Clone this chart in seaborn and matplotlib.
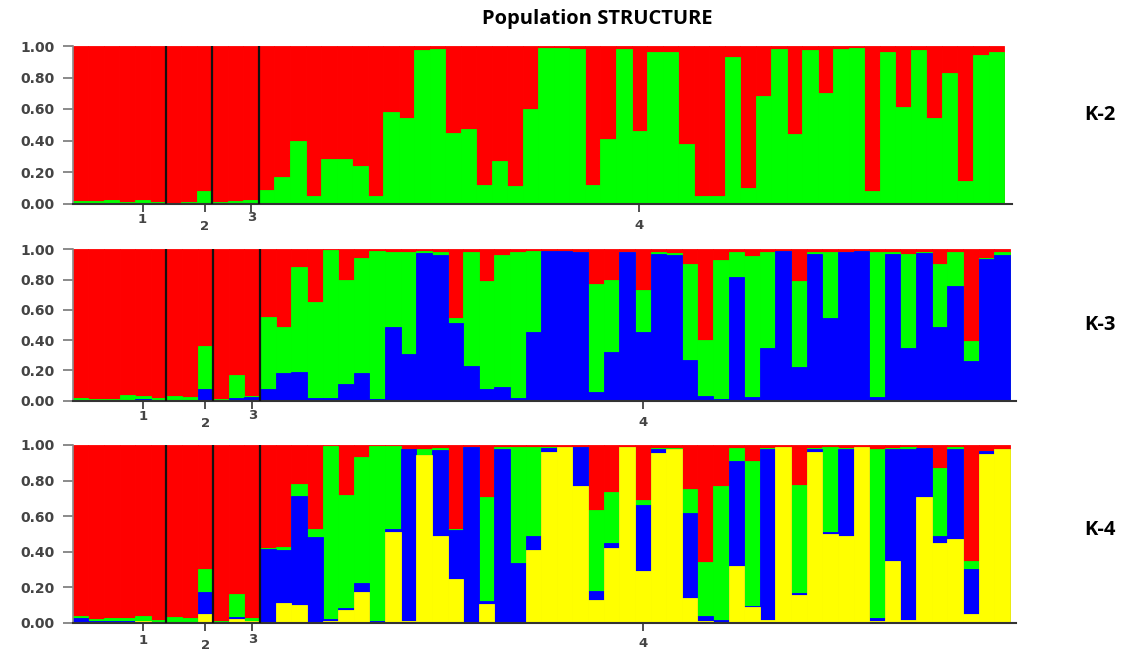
import numpy as np
import matplotlib
matplotlib.use("Agg")
import matplotlib.pyplot as plt
import seaborn as sns
from matplotlib.transforms import blended_transform_factory, offset_copy

# ---------------- data ----------------
group_sizes = [6, 3, 3, 48]
group_labels = ["1", "2", "3", "4"]
panel_labels = ["K-2", "K-3", "K-4"]
ytick_vals = [0.0, 0.2, 0.4, 0.6, 0.8, 1.0]
ytick_labels = ["0.00", "0.20", "0.40", "0.60", "0.80", "1.00"]

# K = 2  (bottom -> top: green, red)
k2_green = [0.015, 0.015, 0.02, 0.01, 0.02, 0.01,
            0.005, 0.01, 0.08,
            0.01, 0.015, 0.025,
            0.085, 0.17, 0.40, 0.05, 0.28, 0.28, 0.24, 0.05, 0.58, 0.545,
            0.975, 0.98, 0.45, 0.47, 0.12, 0.27, 0.11, 0.60, 0.99, 0.99,
            0.98, 0.12, 0.41, 0.98, 0.46, 0.96, 0.96, 0.38, 0.05, 0.05,
            0.93, 0.10, 0.68, 0.98, 0.44, 0.975, 0.70, 0.98, 0.985, 0.08,
            0.96, 0.61, 0.975, 0.545, 0.83, 0.14, 0.94, 0.96]
k2_red = [0.985, 0.985, 0.98, 0.99, 0.98, 0.99,
          0.995, 0.99, 0.92,
          0.99, 0.985, 0.975,
          0.915, 0.83, 0.60, 0.95, 0.72, 0.72, 0.76, 0.95, 0.42, 0.455,
          0.025, 0.02, 0.55, 0.53, 0.88, 0.73, 0.89, 0.40, 0.01, 0.01,
          0.02, 0.88, 0.59, 0.02, 0.54, 0.04, 0.04, 0.62, 0.95, 0.95,
          0.07, 0.90, 0.32, 0.02, 0.56, 0.025, 0.30, 0.02, 0.015, 0.92,
          0.04, 0.39, 0.025, 0.455, 0.17, 0.86, 0.06, 0.04]

# K = 3  (bottom -> top: blue, green, red)
k3_blue = [0.0, 0.0, 0.0, 0.0, 0.01, 0.0,
           0.0, 0.0, 0.08,
           0.0, 0.02, 0.025,
           0.08, 0.185, 0.19, 0.015, 0.015, 0.11, 0.18, 0.01, 0.49, 0.31,
           0.975, 0.965, 0.515, 0.23, 0.075, 0.09, 0.015, 0.455, 0.99, 0.99,
           0.985, 0.06, 0.32, 0.985, 0.455, 0.97, 0.965, 0.27, 0.03, 0.01,
           0.815, 0.025, 0.35, 0.99, 0.225, 0.97, 0.545, 0.98, 0.99, 0.025,
           0.97, 0.35, 0.975, 0.49, 0.76, 0.26, 0.935, 0.965]
k3_green = [0.02, 0.01, 0.01, 0.035, 0.02, 0.015,
            0.03, 0.025, 0.28,
            0.01, 0.15, 0.005,
            0.47, 0.305, 0.69, 0.64, 0.98, 0.69, 0.76, 0.98, 0.49, 0.675,
            0.015, 0.02, 0.03, 0.75, 0.715, 0.875, 0.97, 0.535, 0.0, 0.0,
            0.0, 0.71, 0.48, 0.0, 0.275, 0.015, 0.01, 0.63, 0.37, 0.92,
            0.17, 0.93, 0.635, 0.0, 0.565, 0.015, 0.44, 0.005, 0.0, 0.96,
            0.01, 0.62, 0.01, 0.415, 0.225, 0.135, 0.01, 0.015]
k3_red = [0.98, 0.99, 0.99, 0.965, 0.97, 0.985,
          0.97, 0.975, 0.64,
          0.99, 0.83, 0.97,
          0.45, 0.51, 0.12, 0.345, 0.005, 0.20, 0.06, 0.01, 0.02, 0.015,
          0.01, 0.015, 0.455, 0.02, 0.21, 0.035, 0.015, 0.01, 0.01, 0.01,
          0.015, 0.23, 0.20, 0.015, 0.27, 0.015, 0.025, 0.10, 0.60, 0.07,
          0.015, 0.045, 0.015, 0.01, 0.21, 0.015, 0.015, 0.015, 0.01, 0.015,
          0.02, 0.03, 0.015, 0.095, 0.015, 0.605, 0.055, 0.02]

# K = 4  (bottom -> top: yellow, blue, green, red)
k4_yellow = [0.005, 0.0, 0.0, 0.0, 0.01, 0.0,
             0.0, 0.0, 0.047,
             0.0, 0.02, 0.01,
             0.005, 0.11, 0.10, 0.005, 0.01, 0.07, 0.17, 0.005, 0.51, 0.01,
             0.945, 0.49, 0.245, 0.0, 0.105, 0.0, 0.0, 0.41, 0.96, 0.99,
             0.77, 0.13, 0.42, 0.99, 0.29, 0.955, 0.98, 0.14, 0.01, 0.005,
             0.32, 0.09, 0.015, 0.99, 0.155, 0.96, 0.50, 0.49, 0.99, 0.01,
             0.35, 0.015, 0.71, 0.45, 0.47, 0.05, 0.95, 0.975]
k4_blue = [0.02, 0.012, 0.012, 0.012, 0.0, 0.0,
           0.005, 0.0, 0.123,
           0.0, 0.01, 0.0,
           0.41, 0.30, 0.615, 0.48, 0.01, 0.01, 0.055, 0.005, 0.015, 0.965,
           0.0, 0.48, 0.275, 0.99, 0.015, 0.98, 0.335, 0.08, 0.025, 0.0,
           0.22, 0.05, 0.03, 0.0, 0.375, 0.02, 0.0, 0.475, 0.025, 0.01,
           0.59, 0.005, 0.965, 0.0, 0.01, 0.015, 0.01, 0.49, 0.0, 0.015,
           0.63, 0.965, 0.275, 0.04, 0.505, 0.25, 0.015, 0.0]
k4_green = [0.015, 0.01, 0.015, 0.015, 0.025, 0.015,
            0.025, 0.025, 0.135,
            0.01, 0.13, 0.015,
            0.005, 0.015, 0.065, 0.045, 0.975, 0.64, 0.71, 0.985, 0.47, 0.0,
            0.035, 0.015, 0.01, 0.0, 0.59, 0.01, 0.655, 0.50, 0.005, 0.0,
            0.0, 0.455, 0.285, 0.0, 0.025, 0.01, 0.005, 0.135, 0.305, 0.755,
            0.075, 0.815, 0.005, 0.0, 0.61, 0.01, 0.48, 0.005, 0.0, 0.955,
            0.005, 0.01, 0.0, 0.38, 0.015, 0.05, 0.0, 0.005]
k4_red = [0.96, 0.978, 0.973, 0.973, 0.965, 0.985,
          0.97, 0.975, 0.695,
          0.99, 0.84, 0.975,
          0.58, 0.575, 0.22, 0.47, 0.005, 0.28, 0.065, 0.005, 0.005, 0.025,
          0.02, 0.015, 0.47, 0.01, 0.29, 0.01, 0.01, 0.01, 0.01, 0.01,
          0.01, 0.365, 0.265, 0.01, 0.31, 0.015, 0.015, 0.25, 0.66, 0.23,
          0.015, 0.09, 0.015, 0.01, 0.225, 0.015, 0.01, 0.015, 0.01, 0.02,
          0.015, 0.01, 0.015, 0.13, 0.01, 0.65, 0.035, 0.02]

RED, GREEN, BLUE, YELLOW = "#FF0000", "#00FF00", "#0000FF", "#FFFF00"

panels = [
    ([k2_green, k2_red], [GREEN, RED]),
    ([k3_blue, k3_green, k3_red], [BLUE, GREEN, RED]),
    ([k4_yellow, k4_blue, k4_green, k4_red], [YELLOW, BLUE, GREEN, RED]),
]

# ---------------- layout ----------------
W, H = 1133, 651
sns.set_theme(style="white")
plt.rcParams['font.family'] = ['DejaVu Sans']

fig = plt.figure(figsize=(W / 100, H / 100), dpi=100)
fig.patch.set_facecolor("white")

# (left px, top px, right px, bottom px, xmax)
boxes = [
    (72.7, 46.0, 1011.8, 203.5, 60.0),
    (72.7, 249.3, 1016.0, 400.7, 59.9),
    (72.7, 445.0, 1016.0, 622.7, 59.9),
]
label_offsets = [
    [16, 23, 14, 22],
    [15.5, 22.5, 14.5, 22],
    [18, 22.5, 16.5, 21],
]
k_label_y = [115, 325, 530]

n = sum(group_sizes)
idx = np.arange(n)
bounds = np.cumsum(group_sizes)[:-1] - 0.5
tick_pos = [4, 8, 11, 36]

for p, ((layers, colors), box) in enumerate(zip(panels, boxes)):
    l, t, r, b, xmax = box
    ax = fig.add_axes([l / W, 1 - b / H, (r - l) / W, (b - t) / H])
    cum = np.zeros(n)
    cums = []
    for layer in layers:
        cum = cum + np.asarray(layer, dtype=float)
        cums.append(cum.copy())
    # draw from top layer (full stack) down to the bottom layer
    for c, col in reversed(list(zip(cums, colors))):
        sns.barplot(x=idx, y=np.minimum(c, 1.0), color=col, width=1.0,
                    saturation=1, linewidth=0.6, edgecolor=col, ax=ax,
                    native_scale=True, errorbar=None)
    ax.vlines(bounds, 0, 1, color="#111111", lw=1.6, zorder=5)
    ax.set_xlim(-0.5, xmax)
    ax.set_ylim(0, 1.0)
    ax.set_facecolor("white")
    for s in ["top", "right"]:
        ax.spines[s].set_visible(False)
    ax.spines["left"].set_color("#8a8a8a")
    ax.spines["left"].set_linewidth(1.2)
    ax.spines["bottom"].set_color("#333333")
    ax.spines["bottom"].set_linewidth(1.5)
    ax.set_yticks(ytick_vals)
    ax.set_yticklabels(ytick_labels, fontsize=10, fontweight="bold", color="#444444")
    ax.tick_params(axis="y", direction="out", length=7, width=1.2, color="#777777",
                   pad=6, left=True)
    ax.set_xticks(tick_pos)
    ax.set_xticklabels([])
    ax.tick_params(axis="x", direction="out", length=6, width=1.2, color="#333333",
                   bottom=True)
    ax.set_xlabel("")
    ax.set_ylabel("")
    trans = blended_transform_factory(ax.transData, ax.transAxes)
    for x, lab, off in zip(tick_pos, group_labels, label_offsets[p]):
        tr = offset_copy(trans, fig=fig, x=0, y=-off, units="dots")
        ax.text(x, 0, lab, transform=tr, ha="center", va="center",
                fontsize=9.5, fontweight="bold", color="#444444")
    fig.text(1100 / W, 1 - k_label_y[p] / H, panel_labels[p], ha="center", va="center",
             fontsize=14.5, fontweight="bold", color="black", family=["Open Sans", "DejaVu Sans"])

fig.text(597 / W, 1 - 19 / H, "Population STRUCTURE", ha="center", va="center",
         fontsize=14.5, fontweight="bold", color="black", family=["Open Sans", "DejaVu Sans"])

fig.savefig("out.png", dpi=100, facecolor="white")
